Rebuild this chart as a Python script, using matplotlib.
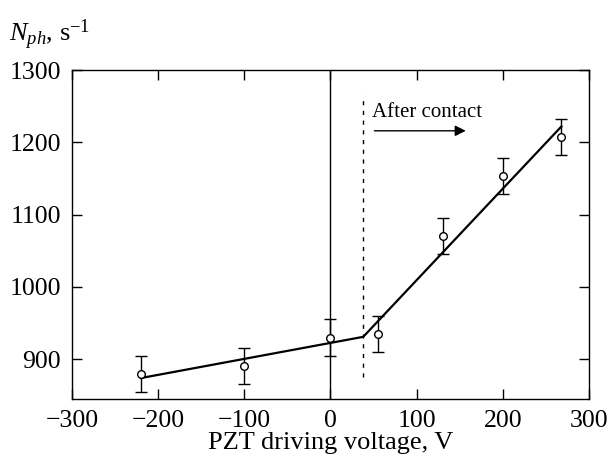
import matplotlib
matplotlib.use('Agg')
import matplotlib.pyplot as plt

plt.rcParams['font.family'] = ['Liberation Serif', 'DejaVu Serif']
plt.rcParams['mathtext.fontset'] = 'custom'
plt.rcParams['mathtext.rm'] = 'Liberation Serif'
plt.rcParams['mathtext.it'] = 'Liberation Serif:italic'

# measured points
voltage = [-220, -100, 0, 55, 130, 200, 268]
n_ph = [880, 891, 930, 935, 1070, 1153, 1208]
n_err = [25, 25, 25, 25, 25, 25, 25]

# piecewise linear fit
fit_v = [-220, 38, 268]
fit_n = [874, 931, 1222]

contact_v = 38
contact_range = [875, 1265]

fig = plt.figure(figsize=(6.12, 4.58), dpi=100)
ax = fig.add_axes([0.1176, 0.1288, 0.8448, 0.7182])

ax.axvline(0, color='black', lw=1.0)
ax.plot([contact_v, contact_v], contact_range, color='black', lw=1.0, ls=(0, (3, 4)))
ax.plot(fit_v, fit_n, color='black', lw=1.6)
ax.errorbar(voltage, n_ph, yerr=n_err, fmt='o', mfc='white', mec='black',
            ms=5.5, mew=1.0, ecolor='black', elinewidth=1.0, capsize=4.6, capthick=1.0)

ax.text(48, 1241, 'After contact', fontsize=15, va='center', ha='left')
ax.annotate('', xy=(157, 1216), xytext=(51, 1216),
            arrowprops=dict(arrowstyle='-|>', color='black', lw=1.0,
                            mutation_scale=16, shrinkA=0, shrinkB=0))

ax.set_xlim(-300, 300)
ax.set_ylim(845, 1300)
ax.set_xticks([-300, -200, -100, 0, 100, 200, 300])
ax.set_xticklabels(['\u2212300', '\u2212200', '\u2212100', '0', '100', '200', '300'])
ax.set_yticks([900, 1000, 1100, 1200, 1300])
ax.tick_params(direction='in', length=7, width=1.0, labelsize=18.5,
               top=True, right=True)
ax.tick_params(axis='y', pad=8)
ax.tick_params(axis='x', pad=8)
for s in ax.spines.values():
    s.set_linewidth(1.0)

ax.set_xlabel('PZT driving voltage, V', fontsize=19, labelpad=0)
fig.text(0.015, 0.925, r'$N_{ph}$, s$^{\mathrm{-1}}$', fontsize=19, ha='left', va='center')

fig.savefig('out.png', dpi=100)
